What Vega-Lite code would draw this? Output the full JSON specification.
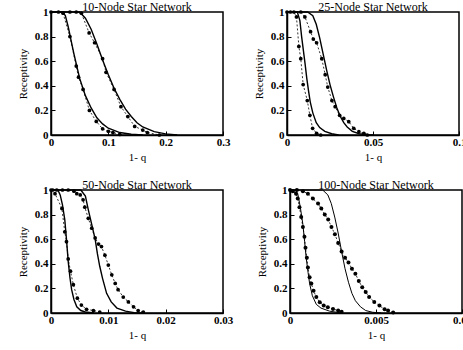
{
"$schema":"https://vega.github.io/schema/vega-lite/v6.json",
"background":"white",
"padding":{"left":16,"top":0,"right":0,"bottom":0},
"spacing":15,
"config":{
 "font":"Liberation Serif",
 "view":{"stroke":"black","strokeWidth":1.5},
 "axis":{"domainColor":"black","domainWidth":1.5,"tickColor":"black","tickSize":-4,"labelColor":"black","titleColor":"black","labelFont":"Liberation Serif","titleFont":"Liberation Serif","labelFontSize":11,"titleFontSize":11,"labelFontWeight":"bold","titleFontWeight":"normal","grid":false,"labelExpr":"format(datum.value,'~g')"},
 "axisX":{"labelPadding":5,"titlePadding":4,"labelFlush":false},
 "axisY":{"labelPadding":7,"titlePadding":6},
 "title":{"font":"Liberation Serif","fontSize":12,"fontWeight":"normal","color":"black","offset":-8}
},
"datasets":{"d":[
{"p":1,"s":"tA","x":0,"y":1},{"p":1,"s":"tA","x":0.02,"y":1},{"p":1,"s":"tA","x":0.025,"y":0.97},{"p":1,"s":"tA","x":0.03,"y":0.88},{"p":1,"s":"tA","x":0.035,"y":0.77},{"p":1,"s":"tA","x":0.04,"y":0.66},{"p":1,"s":"tA","x":0.045,"y":0.56},{"p":1,"s":"tA","x":0.05,"y":0.46},{"p":1,"s":"tA","x":0.06,"y":0.32},{"p":1,"s":"tA","x":0.07,"y":0.22},{"p":1,"s":"tA","x":0.08,"y":0.14},{"p":1,"s":"tA","x":0.09,"y":0.09},{"p":1,"s":"tA","x":0.1,"y":0.055},{"p":1,"s":"tA","x":0.12,"y":0.02},{"p":1,"s":"tA","x":0.14,"y":0.006},{"p":1,"s":"tA","x":0.16,"y":0},
{"p":1,"s":"sA","x":0,"y":1},{"p":1,"s":"sA","x":0.013,"y":1},{"p":1,"s":"sA","x":0.021,"y":0.99},{"p":1,"s":"sA","x":0.033,"y":0.8},{"p":1,"s":"sA","x":0.044,"y":0.56},{"p":1,"s":"sA","x":0.048,"y":0.47},{"p":1,"s":"sA","x":0.056,"y":0.37},{"p":1,"s":"sA","x":0.067,"y":0.2},{"p":1,"s":"sA","x":0.079,"y":0.11},{"p":1,"s":"sA","x":0.09,"y":0.05},{"p":1,"s":"sA","x":0.1,"y":0.03},{"p":1,"s":"sA","x":0.108,"y":0.02},{"p":1,"s":"sA","x":0.12,"y":0.005},
{"p":1,"s":"tB","x":0,"y":1},{"p":1,"s":"tB","x":0.05,"y":1},{"p":1,"s":"tB","x":0.06,"y":0.95},{"p":1,"s":"tB","x":0.07,"y":0.86},{"p":1,"s":"tB","x":0.08,"y":0.74},{"p":1,"s":"tB","x":0.09,"y":0.61},{"p":1,"s":"tB","x":0.1,"y":0.49},{"p":1,"s":"tB","x":0.11,"y":0.38},{"p":1,"s":"tB","x":0.12,"y":0.29},{"p":1,"s":"tB","x":0.13,"y":0.21},{"p":1,"s":"tB","x":0.14,"y":0.15},{"p":1,"s":"tB","x":0.15,"y":0.1},{"p":1,"s":"tB","x":0.16,"y":0.065},{"p":1,"s":"tB","x":0.18,"y":0.027},{"p":1,"s":"tB","x":0.2,"y":0.009},{"p":1,"s":"tB","x":0.22,"y":0},
{"p":1,"s":"sB","x":0.033,"y":1},{"p":1,"s":"sB","x":0.044,"y":1},{"p":1,"s":"sB","x":0.053,"y":0.99},{"p":1,"s":"sB","x":0.0665,"y":0.83},{"p":1,"s":"sB","x":0.076,"y":0.75},{"p":1,"s":"sB","x":0.09,"y":0.62},{"p":1,"s":"sB","x":0.096,"y":0.51},{"p":1,"s":"sB","x":0.11,"y":0.37},{"p":1,"s":"sB","x":0.122,"y":0.23},{"p":1,"s":"sB","x":0.134,"y":0.15},{"p":1,"s":"sB","x":0.146,"y":0.07},{"p":1,"s":"sB","x":0.16,"y":0.04},{"p":1,"s":"sB","x":0.168,"y":0.02},{"p":1,"s":"sB","x":0.189,"y":0},
{"p":2,"s":"tA","x":0,"y":1},{"p":2,"s":"tA","x":0.006,"y":1},{"p":2,"s":"tA","x":0.0075,"y":0.93},{"p":2,"s":"tA","x":0.0085,"y":0.8},{"p":2,"s":"tA","x":0.0095,"y":0.69},{"p":2,"s":"tA","x":0.0105,"y":0.58},{"p":2,"s":"tA","x":0.0115,"y":0.46},{"p":2,"s":"tA","x":0.0125,"y":0.36},{"p":2,"s":"tA","x":0.0135,"y":0.27},{"p":2,"s":"tA","x":0.015,"y":0.18},{"p":2,"s":"tA","x":0.017,"y":0.1},{"p":2,"s":"tA","x":0.019,"y":0.06},{"p":2,"s":"tA","x":0.022,"y":0.03},{"p":2,"s":"tA","x":0.026,"y":0.01},{"p":2,"s":"tA","x":0.03,"y":0},
{"p":2,"s":"sA","x":0,"y":1},{"p":2,"s":"sA","x":0.002,"y":1},{"p":2,"s":"sA","x":0.004,"y":1},{"p":2,"s":"sA","x":0.0055,"y":0.96},{"p":2,"s":"sA","x":0.0069,"y":0.72},{"p":2,"s":"sA","x":0.008,"y":0.62},{"p":2,"s":"sA","x":0.0094,"y":0.41},{"p":2,"s":"sA","x":0.0118,"y":0.28},{"p":2,"s":"sA","x":0.0133,"y":0.16},{"p":2,"s":"sA","x":0.0149,"y":0.054},{"p":2,"s":"sA","x":0.0172,"y":0.014},{"p":2,"s":"sA","x":0.0196,"y":0},
{"p":2,"s":"tB","x":0,"y":1},{"p":2,"s":"tB","x":0.012,"y":1},{"p":2,"s":"tB","x":0.015,"y":0.97},{"p":2,"s":"tB","x":0.017,"y":0.9},{"p":2,"s":"tB","x":0.019,"y":0.79},{"p":2,"s":"tB","x":0.021,"y":0.66},{"p":2,"s":"tB","x":0.023,"y":0.53},{"p":2,"s":"tB","x":0.025,"y":0.41},{"p":2,"s":"tB","x":0.027,"y":0.31},{"p":2,"s":"tB","x":0.029,"y":0.22},{"p":2,"s":"tB","x":0.031,"y":0.15},{"p":2,"s":"tB","x":0.033,"y":0.1},{"p":2,"s":"tB","x":0.035,"y":0.065},{"p":2,"s":"tB","x":0.038,"y":0.03},{"p":2,"s":"tB","x":0.042,"y":0.01},{"p":2,"s":"tB","x":0.047,"y":0.002},{"p":2,"s":"tB","x":0.05,"y":0},
{"p":2,"s":"sB","x":0.008,"y":1},{"p":2,"s":"sB","x":0.0104,"y":0.96},{"p":2,"s":"sB","x":0.0137,"y":0.84},{"p":2,"s":"sB","x":0.0153,"y":0.78},{"p":2,"s":"sB","x":0.0172,"y":0.75},{"p":2,"s":"sB","x":0.0202,"y":0.62},{"p":2,"s":"sB","x":0.0222,"y":0.49},{"p":2,"s":"sB","x":0.0237,"y":0.39},{"p":2,"s":"sB","x":0.0261,"y":0.28},{"p":2,"s":"sB","x":0.028,"y":0.23},{"p":2,"s":"sB","x":0.0306,"y":0.16},{"p":2,"s":"sB","x":0.033,"y":0.135},{"p":2,"s":"sB","x":0.0359,"y":0.108},{"p":2,"s":"sB","x":0.0388,"y":0.054},{"p":2,"s":"sB","x":0.0418,"y":0.027},{"p":2,"s":"sB","x":0.0447,"y":0.014},{"p":2,"s":"sB","x":0.0467,"y":0},
{"p":3,"s":"tA","x":0,"y":1},{"p":3,"s":"tA","x":0.0012,"y":1},{"p":3,"s":"tA","x":0.0016,"y":0.96},{"p":3,"s":"tA","x":0.002,"y":0.88},{"p":3,"s":"tA","x":0.0024,"y":0.76},{"p":3,"s":"tA","x":0.0027,"y":0.6},{"p":3,"s":"tA","x":0.003,"y":0.42},{"p":3,"s":"tA","x":0.0033,"y":0.29},{"p":3,"s":"tA","x":0.0036,"y":0.19},{"p":3,"s":"tA","x":0.004,"y":0.11},{"p":3,"s":"tA","x":0.0045,"y":0.05},{"p":3,"s":"tA","x":0.0052,"y":0.02},{"p":3,"s":"tA","x":0.006,"y":0.008},{"p":3,"s":"tA","x":0.0075,"y":0},
{"p":3,"s":"sA","x":0,"y":1},{"p":3,"s":"sA","x":0.0003,"y":1},{"p":3,"s":"sA","x":0.0007,"y":0.97},{"p":3,"s":"sA","x":0.0019,"y":0.85},{"p":3,"s":"sA","x":0.0024,"y":0.66},{"p":3,"s":"sA","x":0.0027,"y":0.58},{"p":3,"s":"sA","x":0.003,"y":0.44},{"p":3,"s":"sA","x":0.0034,"y":0.34},{"p":3,"s":"sA","x":0.0039,"y":0.23},{"p":3,"s":"sA","x":0.0046,"y":0.12},{"p":3,"s":"sA","x":0.0053,"y":0.065},{"p":3,"s":"sA","x":0.0062,"y":0.03},{"p":3,"s":"sA","x":0.0074,"y":0.02},{"p":3,"s":"sA","x":0.0085,"y":0.008},
{"p":3,"s":"tB","x":0,"y":1},{"p":3,"s":"tB","x":0.0052,"y":1},{"p":3,"s":"tB","x":0.006,"y":0.95},{"p":3,"s":"tB","x":0.0065,"y":0.84},{"p":3,"s":"tB","x":0.0071,"y":0.72},{"p":3,"s":"tB","x":0.0077,"y":0.6},{"p":3,"s":"tB","x":0.0081,"y":0.48},{"p":3,"s":"tB","x":0.0085,"y":0.38},{"p":3,"s":"tB","x":0.009,"y":0.28},{"p":3,"s":"tB","x":0.0097,"y":0.16},{"p":3,"s":"tB","x":0.0105,"y":0.09},{"p":3,"s":"tB","x":0.0115,"y":0.04},{"p":3,"s":"tB","x":0.013,"y":0.015},{"p":3,"s":"tB","x":0.0145,"y":0.003},{"p":3,"s":"tB","x":0.016,"y":0},
{"p":3,"s":"sB","x":0.001,"y":1},{"p":3,"s":"sB","x":0.002,"y":1},{"p":3,"s":"sB","x":0.003,"y":1},{"p":3,"s":"sB","x":0.004,"y":0.99},{"p":3,"s":"sB","x":0.0045,"y":0.97},{"p":3,"s":"sB","x":0.0051,"y":0.96},{"p":3,"s":"sB","x":0.0056,"y":0.92},{"p":3,"s":"sB","x":0.0059,"y":0.86},{"p":3,"s":"sB","x":0.0065,"y":0.77},{"p":3,"s":"sB","x":0.0071,"y":0.69},{"p":3,"s":"sB","x":0.0077,"y":0.61},{"p":3,"s":"sB","x":0.0083,"y":0.56},{"p":3,"s":"sB","x":0.0088,"y":0.54},{"p":3,"s":"sB","x":0.0094,"y":0.47},{"p":3,"s":"sB","x":0.01,"y":0.39},{"p":3,"s":"sB","x":0.0106,"y":0.31},{"p":3,"s":"sB","x":0.0112,"y":0.24},{"p":3,"s":"sB","x":0.0117,"y":0.19},{"p":3,"s":"sB","x":0.0126,"y":0.13},{"p":3,"s":"sB","x":0.0135,"y":0.09},{"p":3,"s":"sB","x":0.0144,"y":0.05},{"p":3,"s":"sB","x":0.0152,"y":0.02},{"p":3,"s":"sB","x":0.0161,"y":0.008},
{"p":4,"s":"tA","x":0,"y":1},{"p":4,"s":"tA","x":0.0003,"y":1},{"p":4,"s":"tA","x":0.00045,"y":0.97},{"p":4,"s":"tA","x":0.0006,"y":0.86},{"p":4,"s":"tA","x":0.00075,"y":0.72},{"p":4,"s":"tA","x":0.00085,"y":0.58},{"p":4,"s":"tA","x":0.00094,"y":0.45},{"p":4,"s":"tA","x":0.00105,"y":0.33},{"p":4,"s":"tA","x":0.00114,"y":0.24},{"p":4,"s":"tA","x":0.0013,"y":0.14},{"p":4,"s":"tA","x":0.00153,"y":0.07},{"p":4,"s":"tA","x":0.0018,"y":0.04},{"p":4,"s":"tA","x":0.0023,"y":0.015},{"p":4,"s":"tA","x":0.003,"y":0},
{"p":4,"s":"sA","x":0,"y":1},{"p":4,"s":"sA","x":0.00016,"y":0.99},{"p":4,"s":"sA","x":0.00035,"y":0.97},{"p":4,"s":"sA","x":0.00045,"y":0.93},{"p":4,"s":"sA","x":0.00055,"y":0.86},{"p":4,"s":"sA","x":0.00065,"y":0.78},{"p":4,"s":"sA","x":0.00075,"y":0.7},{"p":4,"s":"sA","x":0.00084,"y":0.62},{"p":4,"s":"sA","x":0.0009,"y":0.53},{"p":4,"s":"sA","x":0.00098,"y":0.45},{"p":4,"s":"sA","x":0.00104,"y":0.37},{"p":4,"s":"sA","x":0.00114,"y":0.29},{"p":4,"s":"sA","x":0.00124,"y":0.24},{"p":4,"s":"sA","x":0.00137,"y":0.18},{"p":4,"s":"sA","x":0.00153,"y":0.13},{"p":4,"s":"sA","x":0.00173,"y":0.087},{"p":4,"s":"sA","x":0.00196,"y":0.06},{"p":4,"s":"sA","x":0.0022,"y":0.046},{"p":4,"s":"sA","x":0.0025,"y":0.033},{"p":4,"s":"sA","x":0.0028,"y":0.02},{"p":4,"s":"sA","x":0.003,"y":0.01},
{"p":4,"s":"tB","x":0,"y":1},{"p":4,"s":"tB","x":0.0019,"y":1},{"p":4,"s":"tB","x":0.0022,"y":0.96},{"p":4,"s":"tB","x":0.0024,"y":0.89},{"p":4,"s":"tB","x":0.0026,"y":0.78},{"p":4,"s":"tB","x":0.0028,"y":0.65},{"p":4,"s":"tB","x":0.003,"y":0.5},{"p":4,"s":"tB","x":0.0032,"y":0.36},{"p":4,"s":"tB","x":0.0034,"y":0.25},{"p":4,"s":"tB","x":0.0036,"y":0.16},{"p":4,"s":"tB","x":0.0038,"y":0.1},{"p":4,"s":"tB","x":0.0041,"y":0.05},{"p":4,"s":"tB","x":0.0044,"y":0.02},{"p":4,"s":"tB","x":0.0048,"y":0.006},{"p":4,"s":"tB","x":0.0053,"y":0},
{"p":4,"s":"sB","x":0.0004,"y":1},{"p":4,"s":"sB","x":0.00075,"y":0.99},{"p":4,"s":"sB","x":0.00104,"y":0.97},{"p":4,"s":"sB","x":0.00133,"y":0.93},{"p":4,"s":"sB","x":0.00163,"y":0.89},{"p":4,"s":"sB","x":0.00182,"y":0.85},{"p":4,"s":"sB","x":0.00202,"y":0.8},{"p":4,"s":"sB","x":0.00222,"y":0.76},{"p":4,"s":"sB","x":0.00241,"y":0.7},{"p":4,"s":"sB","x":0.00261,"y":0.64},{"p":4,"s":"sB","x":0.0028,"y":0.57},{"p":4,"s":"sB","x":0.003,"y":0.5},{"p":4,"s":"sB","x":0.0032,"y":0.45},{"p":4,"s":"sB","x":0.0034,"y":0.41},{"p":4,"s":"sB","x":0.0036,"y":0.36},{"p":4,"s":"sB","x":0.0038,"y":0.32},{"p":4,"s":"sB","x":0.004,"y":0.26},{"p":4,"s":"sB","x":0.0042,"y":0.21},{"p":4,"s":"sB","x":0.0044,"y":0.17},{"p":4,"s":"sB","x":0.0046,"y":0.13},{"p":4,"s":"sB","x":0.0049,"y":0.09},{"p":4,"s":"sB","x":0.0052,"y":0.06},{"p":4,"s":"sB","x":0.0055,"y":0.03},{"p":4,"s":"sB","x":0.0057,"y":0.02},{"p":4,"s":"sB","x":0.006,"y":0.005}
]},
"vconcat":[
 {"spacing":21,"hconcat":[
  {"width":172,"height":123,"title":"10-Node Star Network","data":{"name":"d"},"transform":[{"filter":"datum.p==1"}],
   "encoding":{"x":{"field":"x","type":"quantitative","scale":{"domain":[0,0.3]},"axis":{"values":[0,0.1,0.2,0.3],"title":"1- q"}},
    "y":{"field":"y","type":"quantitative","scale":{"domain":[0,1]},"axis":{"values":[0,0.2,0.4,0.6,0.8,1],"title":"Receptivity"}}},
   "layer":[
    {"transform":[{"filter":"datum.s[0]=='t'"}],"mark":{"type":"line","color":"black","strokeWidth":1.4},"encoding":{"detail":{"field":"s"}}},
    {"transform":[{"filter":"datum.s[0]=='s'"}],"mark":{"type":"line","color":"black","strokeWidth":0.8,"strokeDash":[2,2]},"encoding":{"detail":{"field":"s"}}},
    {"transform":[{"filter":"datum.s[0]=='s'"}],"mark":{"type":"point","filled":true,"color":"black","size":14,"opacity":1}}
   ]},
  {"width":172,"height":123,"title":"25-Node Star Network","data":{"name":"d"},"transform":[{"filter":"datum.p==2"}],
   "encoding":{"x":{"field":"x","type":"quantitative","scale":{"domain":[0,0.1]},"axis":{"values":[0,0.05,0.1],"title":"1- q"}},
    "y":{"field":"y","type":"quantitative","scale":{"domain":[0,1]},"axis":{"values":[0,0.2,0.4,0.6,0.8,1],"title":"Receptivity"}}},
   "layer":[
    {"transform":[{"filter":"datum.s[0]=='t'"}],"mark":{"type":"line","color":"black","strokeWidth":1.4},"encoding":{"detail":{"field":"s"}}},
    {"transform":[{"filter":"datum.s[0]=='s'"}],"mark":{"type":"line","color":"black","strokeWidth":0.8,"strokeDash":[2,2]},"encoding":{"detail":{"field":"s"}}},
    {"transform":[{"filter":"datum.s[0]=='s'"}],"mark":{"type":"point","filled":true,"color":"black","size":14,"opacity":1}}
   ]}
 ]},
 {"spacing":21,"hconcat":[
  {"width":172,"height":123,"title":"50-Node Star Network","data":{"name":"d"},"transform":[{"filter":"datum.p==3"}],
   "encoding":{"x":{"field":"x","type":"quantitative","scale":{"domain":[0,0.03]},"axis":{"values":[0,0.01,0.02,0.03],"title":"1- q"}},
    "y":{"field":"y","type":"quantitative","scale":{"domain":[0,1]},"axis":{"values":[0,0.2,0.4,0.6,0.8,1],"title":"Receptivity"}}},
   "layer":[
    {"transform":[{"filter":"datum.s[0]=='t'"}],"mark":{"type":"line","color":"black","strokeWidth":1.4},"encoding":{"detail":{"field":"s"}}},
    {"transform":[{"filter":"datum.s[0]=='s'"}],"mark":{"type":"line","color":"black","strokeWidth":0.8,"strokeDash":[2,2]},"encoding":{"detail":{"field":"s"}}},
    {"transform":[{"filter":"datum.s[0]=='s'"}],"mark":{"type":"point","filled":true,"color":"black","size":14,"opacity":1}}
   ]},
  {"width":172,"height":123,"title":"100-Node Star Network","data":{"name":"d"},"transform":[{"filter":"datum.p==4"}],
   "encoding":{"x":{"field":"x","type":"quantitative","scale":{"domain":[0,0.01]},"axis":{"values":[0,0.005,0.01],"title":"1- q"}},
    "y":{"field":"y","type":"quantitative","scale":{"domain":[0,1]},"axis":{"values":[0,0.2,0.4,0.6,0.8,1],"title":"Receptivity"}}},
   "layer":[
    {"transform":[{"filter":"datum.s[0]=='t'"}],"mark":{"type":"line","color":"black","strokeWidth":1.0},"encoding":{"detail":{"field":"s"}}},
    {"transform":[{"filter":"datum.s[0]=='s'"}],"mark":{"type":"line","color":"black","strokeWidth":0.8,"strokeDash":[2,2]},"encoding":{"detail":{"field":"s"}}},
    {"transform":[{"filter":"datum.s[0]=='s'"}],"mark":{"type":"point","filled":true,"color":"black","size":16,"opacity":1}}
   ]}
 ]}
]
}
